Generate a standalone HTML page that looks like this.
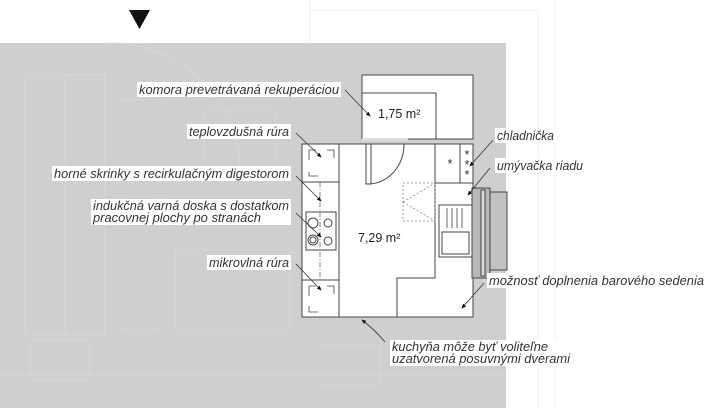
<!DOCTYPE html>
<html><head><meta charset="utf-8"><style>
body{margin:0;width:720px;height:408px;overflow:hidden;background:#fff}
svg{display:block}
text{font-family:"Liberation Sans",sans-serif;font-style:italic;font-size:12.5px;fill:#333}
.lb{fill:#fff}
</style></head><body>
<svg width="720" height="408" viewBox="0 0 720 408">
<defs><marker id="a" markerWidth="6" markerHeight="6" refX="5" refY="3" orient="auto"><path d="M0,0.5 L6,3 L0,5.5z" fill="#111"/></marker></defs>
<g stroke="#f2f2f2" fill="none"><line x1="538" y1="10" x2="538" y2="408"/><line x1="310" y1="0" x2="310" y2="43"/><line x1="310" y1="10" x2="538" y2="10"/><line x1="555" y1="0" x2="555" y2="408"/></g>
<rect x="0" y="43" width="506" height="365" fill="#cfcfcf"/>
<g stroke="#d8d8d8" fill="none" stroke-width="0.8">
<rect x="25" y="75" width="80" height="260"/><rect x="65" y="75" width="40" height="260"/><rect x="120" y="100" width="40" height="230"/>
<rect x="175" y="250" width="115" height="80"/><rect x="205" y="110" width="70" height="60"/><path d="M110 43 A130 130 0 0 1 240 170"/>
<line x1="0" y1="375" x2="506" y2="375"/><rect x="30" y="340" width="60" height="40"/><rect x="320" y="345" width="60" height="40"/>
</g>
<polygon points="129,10 150,10 139.5,29" fill="#111"/>
<g stroke="#444" stroke-width="1" fill="#fff">
<rect x="362" y="75" width="111" height="64"/>
<rect x="362" y="93" width="74" height="46"/>
<path d="M339 144 H473 V317 H339Z" stroke="none"/>
<path d="M339 144 H473 V317 H397 V278 H435 V144" fill="none"/>
<line x1="339" y1="144" x2="339" y2="317"/><line x1="339" y1="317" x2="397" y2="317"/>
<rect x="302" y="144" width="37" height="173"/>
<line x1="302" y1="182" x2="339" y2="182"/><line x1="302" y1="280" x2="339" y2="280"/>
<rect x="306" y="212" width="30" height="38" fill="none"/>
<circle cx="313" cy="223" r="5" fill="none"/><circle cx="328" cy="223" r="4" fill="none"/><circle cx="313" cy="240" r="5" fill="none"/><circle cx="313" cy="240" r="3" fill="none"/><circle cx="328" cy="241" r="4" fill="none"/>
<line x1="435" y1="183" x2="473" y2="183"/><line x1="460" y1="144" x2="460" y2="183"/>
<rect x="439" y="205" width="33" height="52" fill="#fff"/><rect x="442" y="232" width="27" height="22" fill="none"/>
<rect x="472" y="188" width="18" height="90" fill="#b8b8b8"/>
<rect x="490" y="192" width="17" height="78" fill="#c2c2c2"/>
<rect x="481" y="190" width="4" height="86" fill="#ddd"/>
</g>
<g stroke="#888" stroke-width="0.8" fill="none" stroke-dasharray="2,2">
<rect x="403" y="183" width="32" height="38"/><line x1="403" y1="202" x2="435" y2="183"/><line x1="403" y1="202" x2="435" y2="221"/>
<line x1="320" y1="182" x2="320" y2="280" stroke="#666" stroke-dasharray="5,2,1,2"/>
</g>
<g stroke="#444" stroke-width="0.8" fill="none">
<path d="M309 150 V160 M309 172 V176 H318 M327 150 H334 V158 M309 150 H316"/>
<path d="M309 286 V296 M309 306 V312 H318 M327 286 H334 V294 M309 286 H316"/>
<line x1="447" y1="208" x2="447" y2="228"/><line x1="452" y1="208" x2="452" y2="228"/><line x1="457" y1="208" x2="457" y2="228"/><line x1="462" y1="208" x2="462" y2="228"/>
</g>
<g stroke="#444" fill="none" stroke-width="1">
<rect x="366" y="144" width="5" height="40" fill="#fff"/>
<path d="M368 184 A36 40 0 0 0 404 144"/>
<line x1="362" y1="139.5" x2="408" y2="139.5" stroke="#ddd" stroke-width="3"/>
</g>
<text x="447" y="168" font-style="normal" font-size="10">*</text>
<text x="464" y="159" font-style="normal" font-size="9">*</text><text x="464" y="169" font-style="normal" font-size="9">*</text><text x="464" y="179" font-style="normal" font-size="9">*</text>
<text x="378" y="118" style="font-style:normal;font-size:12.5px;fill:#222">1,75 m²</text>
<text x="358" y="242" style="font-style:normal;font-size:12.5px;fill:#222">7,29 m²</text>
<g class="lb">
<rect x="137" y="82" width="204" height="15"/><rect x="187" y="124" width="104" height="15"/>
<rect x="52" y="166" width="239" height="15"/><rect x="91" y="199" width="200" height="26"/>
<rect x="207" y="255" width="84" height="15"/><rect x="495" y="128" width="61" height="15"/>
<rect x="495" y="158" width="90" height="15"/><rect x="487" y="273" width="219" height="15"/>
<rect x="390" y="340" width="182" height="26"/>
</g>
<g lengthAdjust="spacingAndGlyphs">
<text x="139" y="94" textLength="200" lengthAdjust="spacingAndGlyphs">komora prevetrávaná rekuperáciou</text>
<text x="189" y="136" textLength="100" lengthAdjust="spacingAndGlyphs">teplovzdušná rúra</text>
<text x="54" y="178" textLength="235" lengthAdjust="spacingAndGlyphs">horné skrinky s recirkulačným digestorom</text>
<text x="93" y="210" textLength="196" lengthAdjust="spacingAndGlyphs">indukčná varná doska s dostatkom</text>
<text x="93" y="222" textLength="168" lengthAdjust="spacingAndGlyphs">pracovnej plochy po stranách</text>
<text x="209" y="267" textLength="80" lengthAdjust="spacingAndGlyphs">mikrovlná rúra</text>
<text x="497" y="140" textLength="57" lengthAdjust="spacingAndGlyphs">chladnička</text>
<text x="497" y="170" textLength="86" lengthAdjust="spacingAndGlyphs">umývačka riadu</text>
<text x="489" y="285" textLength="215" lengthAdjust="spacingAndGlyphs">možnosť doplnenia barového sedenia</text>
<text x="392" y="351" textLength="156" lengthAdjust="spacingAndGlyphs">kuchyňa môže byť voliteľne</text>
<text x="392" y="363" textLength="178" lengthAdjust="spacingAndGlyphs">uzatvorená posuvnými dverami</text>
</g>
<g stroke="#333" stroke-width="0.8" fill="none" marker-end="url(#a)">
<line x1="345" y1="90" x2="370" y2="116"/>
<line x1="296" y1="133" x2="321" y2="157"/>
<line x1="296" y1="176" x2="321" y2="201"/>
<line x1="296" y1="213" x2="321" y2="237"/>
<line x1="296" y1="264" x2="321" y2="290"/>
<line x1="493" y1="140" x2="470" y2="166"/>
<line x1="490" y1="168" x2="468" y2="195"/>
<line x1="484" y1="283" x2="462" y2="308"/>
<path d="M385 342 Q375 330 362 320"/>
</g>
</svg>
</body></html>
